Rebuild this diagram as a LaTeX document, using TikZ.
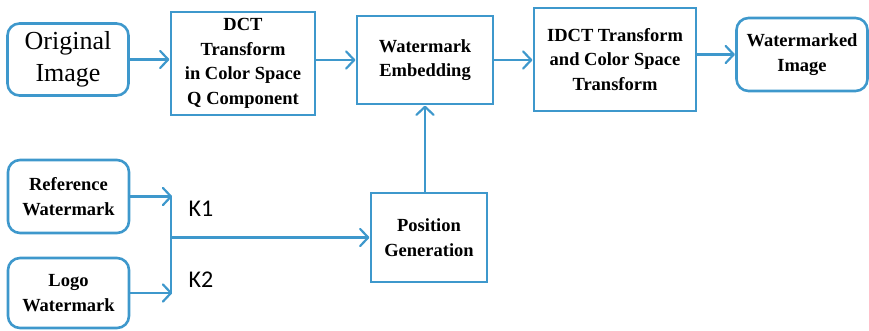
\documentclass[tikz,border=0pt]{standalone}
\usepackage{fontspec}
\setmainfont{Liberation Serif}[BoldFont={Liberation Serif Bold}]
\newfontfamily\ksans{Carlito}
\definecolor{lblue}{RGB}{62,152,204}
\tikzset{
  box/.style={draw=lblue, line width=2.6pt, align=center, inner sep=1pt,
    font=\bfseries\fontsize{18.5}{24.5}\selectfont},
  rbox/.style={box, rounded corners=12pt},
  plain/.style={draw=lblue, line width=2.2pt},
  chev/.style={draw=lblue, line width=2.2pt, line join=round, line cap=round},
  klab/.style={font=\ksans\fontsize{24}{26}\selectfont, anchor=west}
}
\newcommand\rtip[1]{\draw[chev] ([xshift=-8pt,yshift=8.5pt]#1) -- (#1) -- ([xshift=-8pt,yshift=-8.5pt]#1);}
\newcommand\utip[1]{\draw[chev] ([xshift=-8.5pt,yshift=-8pt]#1) -- (#1) -- ([xshift=8.5pt,yshift=-8pt]#1);}
\begin{document}
\begin{tikzpicture}[x=1pt,y=-1pt]
\useasboundingbox (0,0) rectangle (869,330);
\node[rbox, minimum width=121pt, minimum height=72pt, font=\fontsize{26}{32}\selectfont] (orig) at (68,59.5) {Original\\Image};
\node[box, minimum width=144pt, minimum height=103pt] (dct) at (243,63.5) {DCT\\Transform\\in Color Space\\Q Component};
\node[box, minimum width=136pt, minimum height=88pt] (we) at (425,60) {Watermark\\Embedding};
\node[box, minimum width=162pt, minimum height=103pt] (idct) at (615,59.5) {IDCT Transform\\and Color Space\\Transform};
\node[rbox, minimum width=131pt, minimum height=73pt] (wi) at (802,54.5) {Watermarked\\Image};
\node[rbox, minimum width=121pt, minimum height=73pt] (ref) at (68.5,196.5) {Reference\\Watermark};
\node[rbox, minimum width=121pt, minimum height=70pt] (logo) at (68.5,293) {Logo\\Watermark};
\node[box, minimum width=116pt, minimum height=89pt] (pg) at (429,237.5) {Position\\Generation};
\coordinate (jx) at (171,0);
\node[klab] (k1) at (185,209) {K1};
\node[klab] (k2) at (185,280) {K2};
% end points of connectors
\coordinate (t1) at ([xshift=-1.5pt]dct.west |- orig.east);
\coordinate (t2) at ([xshift=-1.5pt]we.west);
\coordinate (t3) at ([xshift=-1.5pt]idct.west |- we.east);
\coordinate (t4) at ([xshift=-1.5pt]wi.west);
\coordinate (t5) at (jx |- ref.east);
\coordinate (t6) at (jx |- logo.east);
\coordinate (t7) at ([xshift=-1.5pt]pg.west);
\coordinate (t8) at ([yshift=-1.5pt]we.south);
\draw[plain] (orig.east) -- (t1);
\draw[plain] (dct.east |- we.west) -- (t2);
\draw[plain] (we.east) -- (t3);
\draw[plain] (idct.east |- wi.west) -- (t4);
\draw[plain] (ref.east) -- (t5);
\draw[plain] (logo.east) -- (t6);
\draw[plain] (t5) -- (t6);
\draw[plain] (jx |- pg.west) -- (t7);
\draw[plain] (pg.north -| we.south) -- (t8);
\rtip{t1}\rtip{t2}\rtip{t3}\rtip{t4}\rtip{t5}\rtip{t6}\rtip{t7}\utip{t8}
\end{tikzpicture}
\end{document}
